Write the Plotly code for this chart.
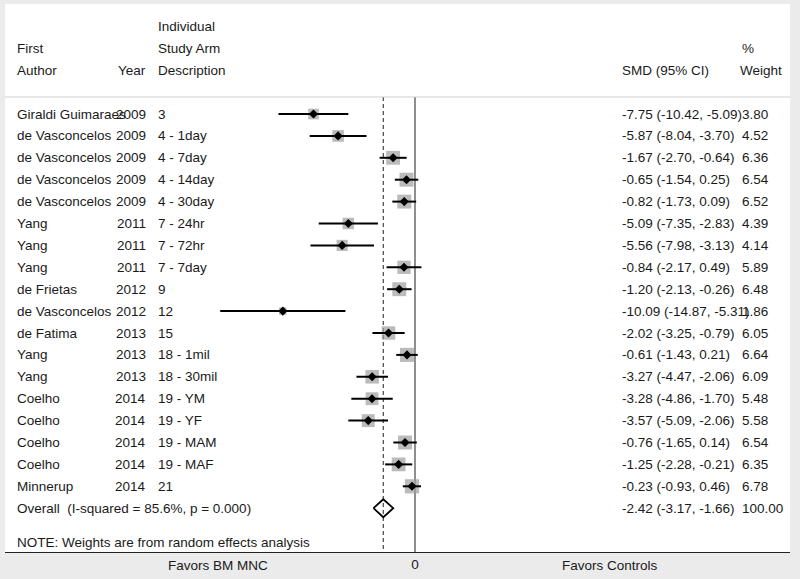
import plotly.graph_objects as go

# ---------------- data ----------------
authors = ["Giraldi Guimaraes", "de Vasconcelos", "de Vasconcelos", "de Vasconcelos",
           "de Vasconcelos", "Yang", "Yang", "Yang", "de Frietas", "de Vasconcelos",
           "de Fatima", "Yang", "Yang", "Coelho", "Coelho", "Coelho", "Coelho", "Minnerup"]
years = ["2009", "2009", "2009", "2009", "2009", "2011", "2011", "2011", "2012", "2012",
         "2013", "2013", "2013", "2014", "2014", "2014", "2014", "2014"]
arms = ["3", "4 - 1day", "4 - 7day", "4 - 14day", "4 - 30day", "7 - 24hr", "7 - 72hr",
        "7 - 7day", "9", "12", "15", "18 - 1mil", "18 - 30mil", "19 - YM", "19 - YF",
        "19 - MAM", "19 - MAF", "21"]
smd = [-7.75, -5.87, -1.67, -0.65, -0.82, -5.09, -5.56, -0.84, -1.20, -10.09,
       -2.02, -0.61, -3.27, -3.28, -3.57, -0.76, -1.25, -0.23]
lo = [-10.42, -8.04, -2.70, -1.54, -1.73, -7.35, -7.98, -2.17, -2.13, -14.87,
      -3.25, -1.43, -4.47, -4.86, -5.09, -1.65, -2.28, -0.93]
hi = [-5.09, -3.70, -0.64, 0.25, 0.09, -2.83, -3.13, 0.49, -0.26, -5.31,
      -0.79, 0.21, -2.06, -1.70, -2.06, 0.14, -0.21, 0.46]
weights = [3.80, 4.52, 6.36, 6.54, 6.52, 4.39, 4.14, 5.89, 6.48, 1.86,
           6.05, 6.64, 6.09, 5.48, 5.58, 6.54, 6.35, 6.78]
overall_smd, overall_lo, overall_hi, overall_w = -2.42, -3.17, -1.66, 100.00
overall_label = "Overall  (I-squared = 85.6%, p = 0.000)"
note = "NOTE: Weights are from random effects analysis"
x_tick_vals = [0]
x_tick_text = ["0"]
left_label = "Favors BM MNC"
right_label = "Favors Controls"

# ---------------- layout helpers ----------------
W, H = 800, 579
PL, PR, PT, PB = 5, 790, 4, 552          # plot area in pixels
X0PX, PXU = 415, 13.1                     # pixel of x=0, pixels per unit
ROW0, ROWH = 114, 21.9                    # pixel of row 0, row height

xr = [(PL - X0PX) / PXU, (PR - X0PX) / PXU]
yr = [(PB - ROW0) / ROWH, (PT - ROW0) / ROWH]


def px(xpix):
    return (xpix - PL) / (PR - PL)


def row_of(ypix):
    return (ypix - ROW0) / ROWH


FONT = "Liberation Sans, Arial, sans-serif"
FS = 13.5
TXT = "#1a1a1a"

n = len(smd)
rows = list(range(n))
ov_row = n

fig = go.Figure()

# vertical reference lines
top_row = row_of(97)
fig.add_shape(type="line", x0=0, x1=0, y0=top_row, y1=yr[0], xref="x", yref="y",
              line=dict(color="#444444", width=1.2), layer="below")
fig.add_shape(type="line", x0=overall_smd, x1=overall_smd, y0=top_row, y1=yr[0],
              xref="x", yref="y", line=dict(color="#444444", width=1.2, dash="4px,3px"),
              layer="below")
# header separator
fig.add_shape(type="line", x0=0, x1=1, xref="paper", y0=top_row, y1=top_row, yref="y",
              line=dict(color="#cfcfcf", width=1.2))

# weight boxes
box_sizes = [5.47 * w ** 0.5 for w in weights]
fig.add_trace(go.Scatter(x=smd, y=rows, mode="markers",
                         marker=dict(symbol="square", size=box_sizes, color="#9e9e9e",
                                     line=dict(width=0)),
                         hoverinfo="skip", showlegend=False))
# CI lines and point estimates
fig.add_trace(go.Scatter(x=smd, y=rows, mode="markers",
                         marker=dict(symbol="diamond", size=7, color="black"),
                         error_x=dict(type="data", symmetric=False,
                                      array=[h - m for h, m in zip(hi, smd)],
                                      arrayminus=[m - l for m, l in zip(smd, lo)],
                                      thickness=2, width=0, color="black"),
                         hoverinfo="skip", showlegend=False))
# overall diamond
dh = 0.41
fig.add_trace(go.Scatter(x=[overall_lo, overall_smd, overall_hi, overall_smd, overall_lo],
                         y=[ov_row, ov_row - dh, ov_row, ov_row + dh, ov_row],
                         mode="lines", line=dict(color="black", width=1.8),
                         hoverinfo="skip", showlegend=False))

ann = []


def add_text(text, xpix, row, anchor="left"):
    ann.append(dict(text=text, x=px(xpix), xref="paper", y=row, yref="y",
                    xanchor=anchor, yanchor="middle", showarrow=False,
                    font=dict(family=FONT, size=FS, color=TXT)))


# headers
add_text("Individual", 156, -4)
add_text("First", 15, -3)
add_text("Study Arm", 156, -3)
add_text("%", 740, -3)
add_text("Author", 15, -2)
add_text("Year", 148, -2, "right")
add_text("Description", 156, -2)
add_text("SMD (95% CI)", 620, -2)
add_text("Weight", 738, -2)

for i in range(n):
    add_text(authors[i], 15, i)
    add_text(years[i], 148, i, "right")
    add_text(arms[i], 156, i)
    add_text(f"{smd[i]:.2f} ({lo[i]:.2f}, {hi[i]:.2f})", 620, i)
    add_text(f"{weights[i]:.2f}", 740, i)

add_text(overall_label, 15, ov_row)
add_text(f"{overall_smd:.2f} ({overall_lo:.2f}, {overall_hi:.2f})", 620, ov_row)
add_text(f"{overall_w:.2f}", 740, ov_row)
add_text(note, 15, row_of(542))

# bottom labels
for txt, xp in [(left_label, 218), (right_label, 610)]:
    ann.append(dict(text=txt, x=px(xp), xref="paper", y=0,
                    yref="paper", xanchor="center", yanchor="middle", showarrow=False,
                    yshift=-(565 - PB), font=dict(family=FONT, size=FS, color=TXT)))

fig.update_layout(
    width=W, height=H,
    margin=dict(l=PL, r=W - PR, t=PT, b=H - PB, pad=0),
    paper_bgcolor="#ebebeb", plot_bgcolor="white",
    annotations=ann,
    xaxis=dict(range=xr, showgrid=False, zeroline=False, showline=True,
               linecolor="#222222", linewidth=1.2, tickvals=x_tick_vals,
               ticktext=x_tick_text, ticks="", mirror=False,
               tickfont=dict(family=FONT, size=FS, color=TXT)),
    yaxis=dict(range=yr, showgrid=False, zeroline=False, showline=False,
               showticklabels=False, ticks=""),
)

fig.write_html("out.html", config={"displayModeBar": False},
               post_script="document.body.style.margin='0';document.body.style.padding='0';")
